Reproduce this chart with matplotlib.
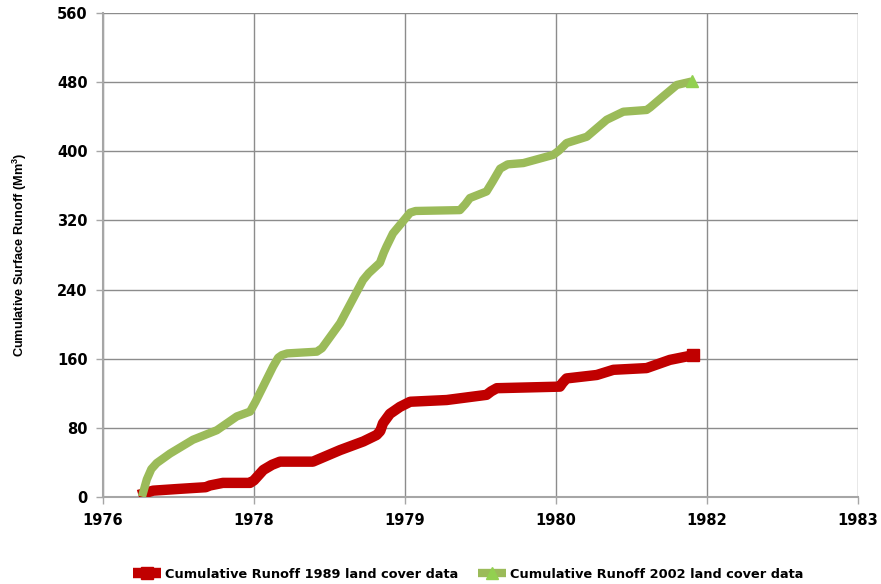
import matplotlib
matplotlib.use("Agg")
import matplotlib.pyplot as plt

# x values are days from the axis start (axis runs 0..2500 days, ticks every 500 days)
days_1989 = [117, 166, 250, 340, 354, 397, 487, 500, 531, 560, 586, 695, 785, 862,
             906, 918, 927, 950, 983, 1017, 1138, 1270, 1285, 1304, 1513, 1522, 1535,
             1635, 1690, 1800, 1877, 1955]
runoff_1989 = [2, 7, 9, 11, 13, 16, 16, 19, 31, 37, 40.6, 40.6, 54, 64,
               71.5, 76, 85, 96, 104, 110, 112, 118, 122, 125.7, 127.5, 132, 137,
               141, 147, 149, 158.5, 164]

days_2002 = [129, 145, 160, 178, 222, 298, 377, 443, 487, 505, 530, 563, 580, 592,
             610, 708, 725, 785, 861, 880, 917, 930, 939, 960, 1017, 1035, 1182, 1200,
             1215, 1270, 1290, 1315, 1340, 1392, 1491, 1510, 1535, 1602, 1668, 1723,
             1800, 1812, 1855, 1900, 1949]
runoff_2002 = [0, 20, 32, 39, 50, 66, 77, 93, 98.6, 110, 127.5, 150.7, 161, 164,
               166, 168, 172, 201, 251, 259, 271, 283, 290, 305, 329, 331, 332, 339,
               346, 353.6, 365, 380, 385, 386.5, 396, 401, 409.7, 417, 436.7, 446,
               448, 451, 463.8, 477, 481]

x_ticks = [0, 500, 1000, 1500, 2000, 2500]
x_labels = ["1976", "1978", "1979", "1980", "1982", "1983"]
y_ticks = [0, 80, 160, 240, 320, 400, 480, 560]

fig = plt.figure(figsize=(8.81, 5.84), dpi=100)
ax = fig.add_axes([103 / 881, 1 - 496.7 / 584, 755 / 881, 483.4 / 584])

ax.plot(days_1989, runoff_1989, color="#c00000", lw=7.5, solid_capstyle="butt",
        solid_joinstyle="round", marker="s", markersize=8, markevery=[-1],
        label="Cumulative Runoff 1989 land cover data", zorder=3)
ax.plot(days_2002, runoff_2002, color="#9bbb59", lw=6.0, solid_capstyle="butt",
        solid_joinstyle="round", marker="^", markersize=9,
        markerfacecolor="#92d050", markeredgecolor="#92d050",
        markevery=[-1], label="Cumulative Runoff 2002 land cover data", zorder=4)

ax.set_xlim(0, 2500)
ax.set_ylim(0, 560)
ax.set_xticks(x_ticks)
ax.set_xticklabels(x_labels)
ax.set_yticks(y_ticks)

ax.grid(True, color="#8c8c8c", lw=1.0)
ax.set_axisbelow(True)
for side in ["top", "right"]:
    ax.spines[side].set_visible(False)
for side in ["left", "bottom"]:
    ax.spines[side].set_color("#a6a6a6")
    ax.spines[side].set_linewidth(1.5)

ax.tick_params(axis="both", colors="#a6a6a6", length=5, width=1, labelcolor="black",
               labelsize=10.5)
ax.tick_params(axis="x", pad=7)
ax.tick_params(axis="y", pad=6)
for lab in ax.get_xticklabels() + ax.get_yticklabels():
    lab.set_fontweight("bold")

ax.set_ylabel("Cumulative Surface Runoff (Mm$^\\mathregular{3}$)", fontsize=9.2,
              fontweight="bold", family="Liberation Sans", labelpad=20)

fig.legend(loc="center", bbox_to_anchor=(468 / 881, 1 - 574 / 584), ncol=2,
           frameon=False, prop={"size": 9.3, "weight": "bold"},
           handlelength=2.2, columnspacing=1.5, handletextpad=0.3)

fig.savefig("out.png", dpi=100)
